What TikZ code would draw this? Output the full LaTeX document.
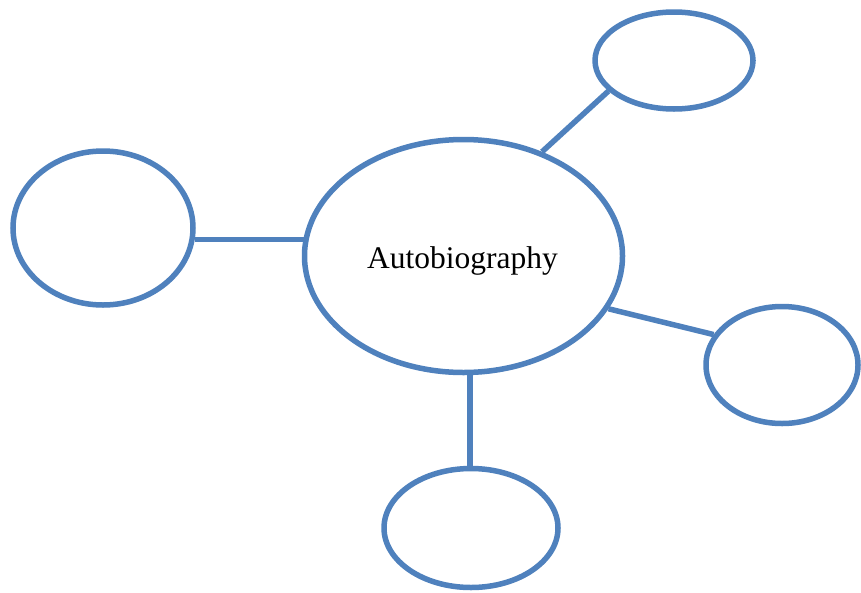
\documentclass[tikz,border=0pt]{standalone}
\usepackage{fontspec}
\setmainfont{Liberation Serif}
\usetikzlibrary{shapes.geometric,backgrounds,shadows}
\definecolor{mapblue}{HTML}{4F81BD}
\tikzset{
  bubble/.style={ellipse, draw=mapblue, line width=5.5pt, fill=white, inner sep=0pt,
    drop shadow={opacity=0.12, shadow xshift=1pt, shadow yshift=-2.5pt}},
  link/.style={draw=mapblue, line width=5.5pt}
}
\begin{document}
\begin{tikzpicture}[x=1pt,y=-1pt]
\useasboundingbox (0,0) rectangle (861,592);
\node[bubble, minimum width=318pt, minimum height=233pt] (C) at (463.5,256) {};
\node[anchor=base, font=\fontsize{31.5}{36}\selectfont] (Ct) at (462.5,268) {Autobiography};
\node[bubble, minimum width=158pt, minimum height=97pt] (TR) at (674,60.5) {};
\node[bubble, minimum width=180pt, minimum height=154pt] (L) at (103,228) {};
\node[bubble, minimum width=152pt, minimum height=117pt] (R) at (782,365) {};
\node[bubble, minimum width=174pt, minimum height=119pt] (B) at (471,528) {};
\begin{scope}[on background layer]
  \draw[link] (L.-7) -- (L.-7 -| C.center);
  \draw[link] (C.53) -- (TR.205);
  \draw[link] (C.-20) -- (R.156);
  \draw[link] ([xshift=-1pt]B.north) -- ([xshift=-1pt]B.north |- C.center);
\end{scope}
\end{tikzpicture}
\end{document}
